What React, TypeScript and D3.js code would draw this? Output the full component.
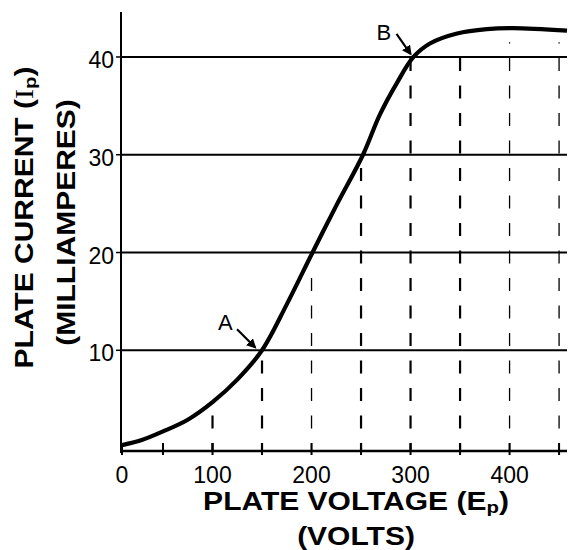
import React from "react";
import * as d3 from "d3";

// Plate characteristic curve (volts, milliamperes)
const curveVolts = [0, 25, 50, 75, 100, 125, 150, 175, 200, 225, 252, 269, 286, 303, 320, 347, 377, 404, 458];
const curveMa = [0.3, 0.85, 1.7, 2.9, 4.7, 7.0, 10.0, 14.7, 19.8, 24.8, 30.0, 34.1, 37.3, 40.0, 41.4, 42.4, 42.85, 42.95, 42.7];

// Horizontal grid values and y tick labels
const yGrid = [10, 20, 30, 40];
// X ticks and labels
const xTicks = [0, 50, 100, 150, 200, 250, 300, 350, 400, 450];
const xLabels = [0, 100, 200, 300, 400];

// Dashed verticals: voltage and the current they rise to
const dashVolts = [100, 150, 200, 250, 300, 350, 400, 450];
const dashTops = [3.4, 10, 17.4, 30, 40, 40, 41.5, 41.5];
const dashHeavy = [true, true, false, true, true, true, false, false];

// Annotated points
const annotLabels = ["A", "B"];
const annotVolts = [150, 303];
const annotMa = [10, 40];

const W = 569;
const H = 550;

// label / arrow placement relative to the annotated point
const annotLayout: Record<string, { tx: number; ty: number; ax: number; ay: number; bx: number; by: number }> = {
  A: { tx: -44, ty: -20, ax: -25, ay: -21, bx: -7, by: -3 },
  B: { tx: -37, ty: -17, ax: -17, ay: -23, bx: -3, by: -3 },
};

export default function App() {
  const left = 122;
  const right = 567;
  const top = 12;
  const bottom = 451;

  const x = d3.scaleLinear().domain([0, 50, 458]).range([left, left + 41, right]);
  const y = d3.scaleLinear().domain([-0.3, 44.6]).range([bottom, top]);

  const line = d3
    .line<number>()
    .x((_, i) => x(curveVolts[i]))
    .y((d) => y(d))
    .curve(d3.curveCatmullRom.alpha(0.5));

  const titleFont = "'Liberation Sans', Arial, sans-serif";

  return (
    <svg
      width={W}
      height={H}
      style={{ position: "absolute", left: 0, top: 0, background: "#fff" }}
      fontFamily={titleFont}
    >
      <rect x={0} y={0} width={W} height={H} fill="#fff" />
      {/* horizontal grid lines */}
      {yGrid.map((v) => (
        <line key={"g" + v} x1={left - 1} x2={right} y1={y(v)} y2={y(v)} stroke="#000" strokeWidth={2} />
      ))}
      {/* dashed verticals */}
      {dashVolts.map((v, i) => (
        <line
          key={"d" + v}
          x1={x(v)}
          x2={x(v)}
          y1={bottom}
          y2={y(dashTops[i])}
          stroke="#000"
          strokeWidth={dashHeavy[i] ? 2.2 : 1.3}
          strokeDasharray="13 14.5"
          strokeDashoffset={5}
        />
      ))}
      {/* axes */}
      <line x1={left - 1} x2={left - 1} y1={top} y2={bottom + 2} stroke="#000" strokeWidth={2} />
      <line x1={left - 2} x2={right} y1={bottom} y2={bottom} stroke="#000" strokeWidth={2.5} />
      {/* x ticks */}
      {xTicks.map((v) => (
        <line key={"t" + v} x1={x(v)} x2={x(v)} y1={bottom - 8} y2={bottom + 4} stroke="#000" strokeWidth={2} />
      ))}
      {/* x tick labels */}
      {xLabels.map((v) => (
        <text key={"xl" + v} x={x(v)} y={483} textAnchor="middle" fontSize={23} fill="#000">
          {v}
        </text>
      ))}
      {/* y ticks & labels */}
      {yGrid.map((v) => (
        <g key={"yl" + v}>
          <line x1={left - 6} x2={left - 1} y1={y(v)} y2={y(v)} stroke="#000" strokeWidth={1.5} />
          <text x={left - 8} y={y(v)} dy="0.48em" textAnchor="end" fontSize={23} fill="#000">
            {v}
          </text>
        </g>
      ))}
      {/* curve */}
      <path d={line(curveMa) || ""} fill="none" stroke="#000" strokeWidth={4.2} strokeLinejoin="round" />
      {/* annotations */}
      <defs>
        <marker id="ah" viewBox="0 0 10 10" refX={8} refY={5} markerWidth={4.5} markerHeight={4.5} orient="auto">
          <path d="M0,0 L10,5 L0,10 z" fill="#000" />
        </marker>
      </defs>
      {annotLabels.map((lab, i) => {
        const px = x(annotVolts[i]);
        const py = y(annotMa[i]);
        const L = annotLayout[lab];
        return (
          <g key={lab}>
            <text x={px + L.tx} y={py + L.ty} fontSize={22} fill="#000">
              {lab}
            </text>
            <line
              x1={px + L.ax}
              y1={py + L.ay}
              x2={px + L.bx}
              y2={py + L.by}
              stroke="#000"
              strokeWidth={2.2}
              markerEnd="url(#ah)"
            />
          </g>
        );
      })}
      {/* x axis title */}
      <g transform="translate(356,510) scale(1.2,1)">
        <text textAnchor="middle" fontSize={25} fontWeight="bold" fill="#000">
          PLATE VOLTAGE (E
          <tspan fontSize={17} dy={3}>p</tspan>
          <tspan dy={-3}>)</tspan>
        </text>
      </g>
      <g transform="translate(356,545) scale(1.2,1)">
        <text textAnchor="middle" fontSize={25} fontWeight="bold" fill="#000">
          (VOLTS)
        </text>
      </g>
      {/* y axis title */}
      <g transform="translate(33,217.5) rotate(-90) scale(1.2,1)">
        <text textAnchor="middle" fontSize={25} fontWeight="bold" fill="#000">
          PLATE CURRENT (
          <tspan fontFamily="'Liberation Serif', serif" fontWeight="normal">I</tspan>
          <tspan fontSize={17} dy={3}>p</tspan>
          <tspan dy={-3}>)</tspan>
        </text>
      </g>
      <g transform="translate(75,222.5) rotate(-90) scale(1.2,1)">
        <text textAnchor="middle" fontSize={25} fontWeight="bold" fill="#000">
          (MILLIAMPERES)
        </text>
      </g>
    </svg>
  );
}
